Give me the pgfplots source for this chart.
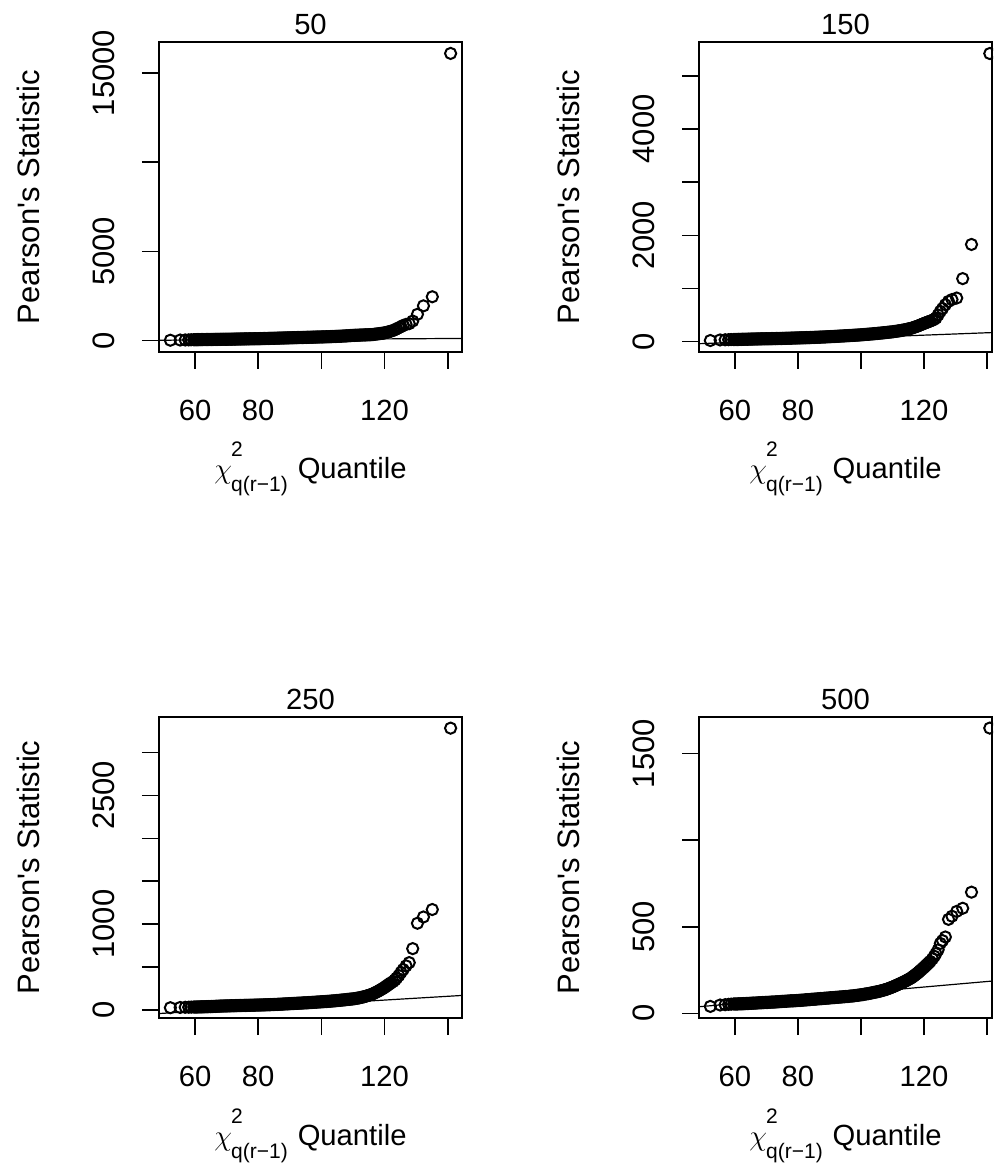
\documentclass[border=0pt]{standalone}
\usepackage{amsmath}
\usepackage{fontspec}
\setmainfont{Liberation Sans}
\usepackage{pgfplots}
\usepackage{pgfplotstable}
\pgfplotsset{compat=1.18}

\newcommand{\hfs}{\fontsize{14.6}{17}\selectfont}
\newcommand{\vfs}{\fontsize{15.5}{18}\selectfont}
\newcommand{\sfs}{\fontsize{10.5}{11}\selectfont}
\newcommand{\xlab}{\(\chi\)\kern-0.5pt\rlap{\raisebox{11pt}{\sfs 2}}\raisebox{-6.5pt}{\sfs q(r−1)}\kern5pt Quantile}

% x: chi-square quantile; a: 50, b: 150, c: 250, d: 500
\pgfplotstableread{
x a b c d
52.2 20 19 25 40
55.3 30 30 28 48
56.9 35 33 30 50
58.0 40 35 31 52
58.8 45 37 32 53
59.6 49 37 33 54
60.0 50 38 33 54
60.4 51 39 33 54
60.8 52 39 34 54
61.2 53 40 34 55
61.6 54 40 35 55
62.0 55 41 35 55
62.4 56 42 35 55
62.8 57 42 36 56
63.2 58 43 36 56
63.6 59 43 37 57
64.0 60 44 37 57
64.4 61 45 38 57
64.8 62 45 38 58
65.2 63 46 39 58
65.6 64 46 39 59
66.0 65 47 40 59
66.4 66 48 41 59
66.8 67 48 42 60
67.2 68 49 42 60
67.6 69 49 43 61
68.0 70 50 44 61
68.4 71 50 44 61
68.8 72 51 45 62
69.2 73 51 45 62
69.6 74 52 46 63
70.0 75 52 46 63
70.4 76 52 46 63
70.8 77 53 47 64
71.2 78 53 47 64
71.6 79 54 48 65
72.0 80 54 48 65
72.4 82 55 48 65
72.8 83 55 49 66
73.2 85 56 49 66
73.6 86 56 50 67
74.0 88 57 50 67
74.4 89 58 50 68
74.8 91 58 51 68
75.2 92 59 51 69
75.6 94 59 52 69
76.0 95 60 52 70
76.4 96 61 52 70
76.8 97 62 53 71
77.2 98 62 53 71
77.6 99 63 54 72
78.0 100 64 54 72
78.4 101 65 54 72
78.8 102 66 55 73
79.2 103 66 55 73
79.6 104 67 56 74
80.0 105 68 56 74
80.4 107 69 56 75
80.8 109 69 57 75
81.2 111 70 57 76
81.6 113 70 58 76
82.0 115 71 58 77
82.4 117 72 59 78
82.8 119 73 59 78
83.2 121 73 60 79
83.6 123 74 60 79
84.0 125 75 61 80
84.4 127 76 62 81
84.8 129 77 62 81
85.2 131 78 63 82
85.6 133 79 63 82
86.0 135 80 64 83
86.4 137 81 65 84
86.8 139 82 66 84
87.2 141 83 66 85
87.6 143 84 67 85
88.0 145 85 68 86
88.4 147 86 69 87
88.8 149 87 70 87
89.2 151 89 70 88
89.6 153 90 71 88
90.0 155 91 72 89
90.4 157 92 73 90
90.8 159 93 74 90
91.2 161 95 74 91
91.6 163 96 75 91
92.0 165 97 76 92
92.4 167 98 77 93
92.8 169 100 78 93
93.2 171 101 78 94
93.6 173 103 79 94
94.0 175 104 80 95
94.4 177 105 81 96
94.8 179 107 82 96
95.2 181 108 82 97
95.6 183 110 83 97
96.0 185 111 84 98
96.4 187 112 85 99
96.8 189 114 86 100
97.2 191 115 87 100
97.6 193 117 88 101
98.0 195 118 89 102
98.4 197 120 90 103
98.8 199 121 91 104
99.2 201 123 92 105
99.6 203 124 93 106
100.0 205 126 94 107
100.4 207 128 95 108
100.8 209 130 96 109
101.2 211 132 97 111
101.6 213 134 98 112
102.0 215 136 99 113
102.4 218 138 100 114
102.8 221 140 101 116
103.2 224 142 103 117
103.6 227 144 104 119
104.0 230 146 105 120
104.4 233 148 106 122
104.8 236 150 108 123
105.2 239 153 109 125
105.6 242 155 111 126
106.0 245 157 112 128
106.4 249 160 114 130
106.8 253 162 115 132
107.2 257 165 117 134
107.6 261 167 118 136
108.0 265 170 120 138
108.4 270 173 122 141
108.8 275 175 123 144
109.2 280 178 125 146
109.6 285 180 126 149
110.0 290 183 128 152
110.4 293 186 130 155
110.8 296 190 133 158
111.2 299 193 135 162
111.6 302 197 138 165
112.0 305 200 140 168
112.4 308 204 144 171
112.8 311 209 147 175
113.2 314 213 151 178
113.6 317 218 154 182
114.0 320 222 158 185
114.4 323 228 163 189
114.8 326 233 168 193
115.2 329 239 172 197
115.6 332 244 177 201
116.0 335 250 182 205
116.4 344 258 189 211
116.8 353 266 196 216
117.2 362 274 204 222
117.6 371 282 211 227
118.0 380 290 218 233
118.4 390 300 227 239
118.8 400 310 236 246
119.2 410 320 244 252
119.6 420 330 253 259
120.0 430 340 262 265
120.4 449 349 273 272
120.8 468 358 283 279
121.2 487 367 294 286
121.6 506 376 304 293
122.0 525 385 315 300
122.7 570 400 330 315
123.3 610 420 350 330
123.8 660 441 370 345
124.5 720 500 400 367
125.2 780 567 437 404
125.9 850 620 470 420
126.8 907 693 513 441
127.8 950 756 551 543
128.9 1096 790 714 561
130.4 1474 819 1010 589
132.3 1947 1184 1083 607
135.1 2457 1827 1170 700
140.9 16100 5420 3285 1648
}\qq

\pgfplotsset{
  rplot/.style={
    scale only axis,
    width=151.5pt,
    xmin=48.6, xmax=144.5,
    xtick={60,80,100,120,140},
    xticklabels={60,80,,120,},
    scaled x ticks=false, scaled y ticks=false,
    tick align=outside,
    major tick length=8.5pt,
    xtick pos=bottom, ytick pos=left,
    axis line style={line width=0.75pt},
    every tick/.style={black, line width=0.75pt},
    xticklabel style={font=\hfs, anchor=north, inner sep=0pt},
    yticklabel style={font=\vfs, rotate=90, anchor=south, inner sep=0pt},
    xticklabel shift=15.5pt,
    yticklabel shift=13.5pt,
    xlabel={\xlab},
    ylabel={Pearson\textquotesingle s Statistic},
    every axis x label/.style={at={(axis description cs:0.5,0)}, anchor=base, yshift=-63.5pt, font=\hfs, inner sep=0pt},
    every axis y label/.style={at={(axis description cs:0,0.5)}, xshift=-65.5pt, rotate=90, anchor=center, font=\vfs, inner sep=0pt},
    every axis title/.style={at={(axis description cs:0.5,1)}, anchor=south, yshift=3.5pt, font=\hfs, inner sep=0pt},
  },
  rightpanel/.style={width=146.5pt, xmax=141.6},
  pts/.style={black, only marks, mark=o, mark size=2.8pt, mark options={line width=1.0pt, fill=none}},
  ref/.style={black, line width=0.6pt, no marks},
}

\begin{document}
\begin{tikzpicture}
\useasboundingbox (0,0) rectangle (496.5pt,587pt);
\clip (0,0) rectangle (496.5pt,587pt);

% top left: 50
\begin{axis}[rplot, at={(79.5pt,411pt)}, anchor=south west, height=155pt,
  ymin=-640, ymax=16740, ytick={0,5000,10000,15000}, yticklabels={0,5000,,15000}, title={50}]
\addplot[pts] table[x=x, y=a] {\qq};
\addplot[ref] coordinates {(48.6,20) (144.5,120)};
\end{axis}

% top right: 150
\begin{axis}[rplot, rightpanel, at={(349.5pt,411pt)}, anchor=south west, height=155pt,
  ymin=-197, ymax=5637, ytick={0,1000,2000,3000,4000,5000}, yticklabels={0,,2000,,4000,}, title={150}]
\addplot[pts] table[x=x, y=b] {\qq};
\addplot[ref] coordinates {(48.6,-41) (144.5,175)};
\end{axis}

% bottom left: 250
\begin{axis}[rplot, at={(79.5pt,78pt)}, anchor=south west, height=150.5pt,
  ymin=-95, ymax=3415, ytick={0,500,1000,1500,2000,2500,3000}, yticklabels={0,,1000,,,2500,}, title={250}]
\addplot[pts] table[x=x, y=c] {\qq};
\addplot[ref] coordinates {(48.6,-43) (144.5,168)};
\end{axis}

% bottom right: 500
\begin{axis}[rplot, rightpanel, at={(349.5pt,78pt)}, anchor=south west, height=150.5pt,
  ymin=-27, ymax=1712, ytick={0,500,1000,1500}, yticklabels={0,500,,1500}, title={500}]
\addplot[pts] table[x=x, y=d] {\qq};
\addplot[ref] coordinates {(48.6,38) (144.5,191)};
\end{axis}
\end{tikzpicture}
\end{document}
